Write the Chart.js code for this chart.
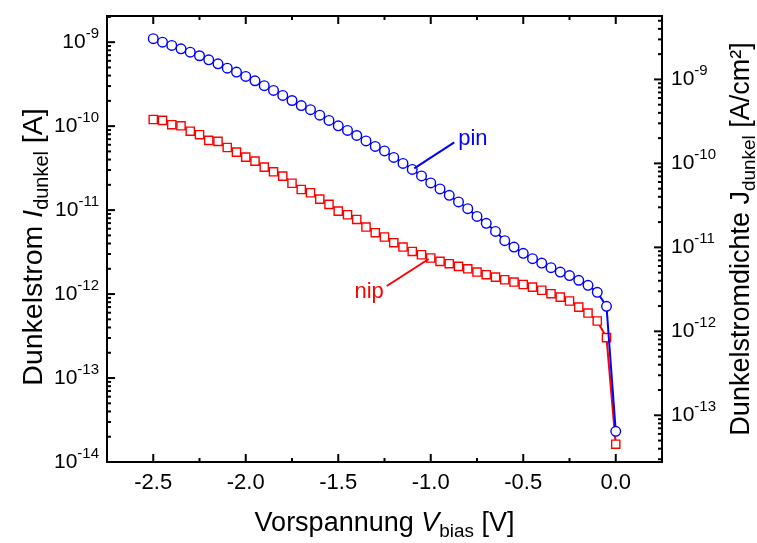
<!DOCTYPE html>
<html>
<head>
<meta charset="utf-8">
<script src="https://cdn.jsdelivr.net/npm/chart.js@4.4.1/dist/chart.umd.min.js"></script>
<style>
  html, body { margin: 0; padding: 0; background: #fff; }
</style>
</head>
<body>
<canvas id="grafico" width="757" height="543"></canvas>
<script>
/* ===================== DATOS ===================== */

const voltajes = [
  -2.50, -2.45, -2.40, -2.35, -2.30, -2.25, -2.20, -2.15, -2.10, -2.05,
  -2.00, -1.95, -1.90, -1.85, -1.80, -1.75, -1.70, -1.65, -1.60, -1.55,
  -1.50, -1.45, -1.40, -1.35, -1.30, -1.25, -1.20, -1.15, -1.10, -1.05,
  -1.00, -0.95, -0.90, -0.85, -0.80, -0.75, -0.70, -0.65, -0.60, -0.55,
  -0.50, -0.45, -0.40, -0.35, -0.30, -0.25, -0.20, -0.15, -0.10, -0.05,
  0.00
];

const corrientePin = [
  1.10e-9, 1.00e-9, 9.14e-10, 8.33e-10, 7.60e-10, 6.89e-10, 6.16e-10, 5.53e-10, 4.90e-10, 4.40e-10,
  3.91e-10, 3.47e-10, 3.03e-10, 2.66e-10, 2.32e-10, 2.02e-10, 1.76e-10, 1.57e-10, 1.35e-10, 1.17e-10,
  1.01e-10, 8.89e-11, 7.74e-11, 6.67e-11, 5.73e-11, 5.07e-11, 4.24e-11, 3.60e-11, 3.05e-11, 2.55e-11,
  2.11e-11, 1.79e-11, 1.50e-11, 1.25e-11, 1.04e-11, 8.41e-12, 6.95e-12, 5.57e-12, 4.33e-12, 3.63e-12,
  3.06e-12, 2.64e-12, 2.34e-12, 2.06e-12, 1.83e-12, 1.66e-12, 1.46e-12, 1.27e-12, 1.05e-12, 7.15e-13,
  2.32e-14
];

const corrienteNip = [
  1.20e-10, 1.17e-10, 1.04e-10, 1.01e-10, 8.71e-11, 7.91e-11, 6.76e-11, 6.58e-11, 5.57e-11, 4.90e-11,
  4.28e-11, 3.83e-11, 3.25e-11, 2.86e-11, 2.54e-11, 2.09e-11, 1.76e-11, 1.61e-11, 1.35e-11, 1.17e-11,
  9.73e-12, 8.81e-12, 7.74e-12, 6.28e-12, 5.38e-12, 4.78e-12, 4.09e-12, 3.63e-12, 3.22e-12, 2.94e-12,
  2.69e-12, 2.45e-12, 2.30e-12, 2.14e-12, 2.00e-12, 1.83e-12, 1.70e-12, 1.59e-12, 1.48e-12, 1.39e-12,
  1.30e-12, 1.21e-12, 1.11e-12, 1.01e-12, 9.20e-13, 8.27e-13, 7.00e-13, 5.94e-13, 4.78e-13, 3.03e-13,
  1.63e-14
];

const xTicks = [-2.5, -2.0, -1.5, -1.0, -0.5, 0.0];
const xTickLabels = ["-2.5", "-2.0", "-1.5", "-1.0", "-0.5", "0.0"];
const xMinorTicks = [-2.25, -1.75, -1.25, -0.75, -0.25];

const iExponentes = [-14, -13, -12, -11, -10, -9];
const jExponentes = [-13, -12, -11, -10, -9];

const AREA_CM2 = 0.36;          // I -> J
const I_MIN = 1e-14, I_MAX = 2.05e-9;

/* ===================== TEXTO ===================== */

const FUENTE = '"Liberation Sans", Arial, sans-serif';

function textoRico(ctx, partes, size, x, y) {
  const medir = p => {
    ctx.font = `${p.italic ? "italic " : ""}${p.sub ? size * 0.7 : size}px ${FUENTE}`;
    return ctx.measureText(p.t).width;
  };
  const total = partes.reduce((s, p) => s + medir(p), 0);
  let cx = x - total / 2;
  ctx.textAlign = "left";
  ctx.textBaseline = "alphabetic";
  partes.forEach(p => {
    const w = medir(p);
    ctx.fillText(p.t, cx, y + (p.sub ? size * 0.22 : 0));
    cx += w;
  });
}

function potencia(ctx, exp, x, y, alinear) {
  ctx.textBaseline = "alphabetic";
  ctx.font = `21px ${FUENTE}`;
  const wBase = ctx.measureText("10").width;
  ctx.font = `15px ${FUENTE}`;
  const wExp = ctx.measureText(String(exp)).width;
  const x0 = alinear === "right" ? x - wBase - wExp : x;
  ctx.textAlign = "left";
  ctx.font = `21px ${FUENTE}`;
  ctx.fillText("10", x0, y + 6);
  ctx.font = `15px ${FUENTE}`;
  ctx.fillText(String(exp), x0 + wBase, y - 4);
}

/* ===================== EJES (plugin) ===================== */

const ejes = {
  id: "ejes",
  afterDraw(chart) {
    const { ctx, chartArea: a, scales } = chart;
    const sx = scales.x, sy = scales.y, sj = scales.y2;
    ctx.save();
    ctx.strokeStyle = "#000";
    ctx.fillStyle = "#000";
    ctx.lineWidth = 2;

    // marco
    ctx.strokeRect(a.left, a.top, a.right - a.left, a.bottom - a.top);

    const linea = (x1, y1, x2, y2) => {
      ctx.beginPath(); ctx.moveTo(x1, y1); ctx.lineTo(x2, y2); ctx.stroke();
    };

    // eje x (abajo y arriba, hacia dentro)
    xTicks.forEach((v, i) => {
      const px = sx.getPixelForValue(v);
      linea(px, a.bottom, px, a.bottom - 8);
      linea(px, a.top, px, a.top + 8);
      ctx.font = `22px ${FUENTE}`;
      ctx.textAlign = "center";
      ctx.textBaseline = "alphabetic";
      ctx.fillText(xTickLabels[i], px, a.bottom + 27);
    });
    xMinorTicks.forEach(v => {
      const px = sx.getPixelForValue(v);
      linea(px, a.bottom, px, a.bottom - 4);
      linea(px, a.top, px, a.top + 4);
    });

    // eje izquierdo (I)
    iExponentes.forEach(e => {
      const py = sy.getPixelForValue(Math.pow(10, e));
      linea(a.left, py, a.left + 8, py);
      potencia(ctx, e, a.left - 8, py, "right");
      for (let m = 2; m <= 9; m++) {
        const v = m * Math.pow(10, e);
        if (v > I_MAX) break;
        const pm = sy.getPixelForValue(v);
        linea(a.left, pm, a.left + 4, pm);
      }
    });

    // eje derecho (J)
    const jMin = I_MIN / AREA_CM2, jMax = I_MAX / AREA_CM2;
    [-14, ...jExponentes].forEach(e => {
      const base = Math.pow(10, e);
      if (base >= jMin) {
        const py = sj.getPixelForValue(base);
        linea(a.right, py, a.right - 8, py);
        potencia(ctx, e, a.right + 9, py, "left");
      }
      for (let m = 2; m <= 9; m++) {
        const v = m * base;
        if (v < jMin || v > jMax) continue;
        const pm = sj.getPixelForValue(v);
        linea(a.right, pm, a.right - 4, pm);
      }
    });

    // titulos
    ctx.fillStyle = "#000";
    textoRico(ctx, [
      { t: "Vorspannung " }, { t: "V", italic: true }, { t: "bias", sub: true }, { t: " [V]" }
    ], 27, (a.left + a.right) / 2, 531);

    ctx.save();
    ctx.translate(42, 247);
    ctx.rotate(-Math.PI / 2);
    textoRico(ctx, [
      { t: "Dunkelstrom " }, { t: "I", italic: true }, { t: "dunkel", sub: true }, { t: " [A]" }
    ], 28.5, 0, 0);
    ctx.restore();

    ctx.save();
    ctx.translate(749, 239);
    ctx.rotate(-Math.PI / 2);
    textoRico(ctx, [
      { t: "Dunkelstromdichte " }, { t: "J" }, { t: "dunkel", sub: true }, { t: " [A/cm²]" }
    ], 27, 0, 0);
    ctx.restore();

    // anotaciones
    const pPin = { x: sx.getPixelForValue(voltajes[28]), y: sy.getPixelForValue(corrientePin[28]) };
    ctx.strokeStyle = "#0000ff";
    ctx.lineWidth = 2;
    linea(pPin.x + 2, pPin.y - 1, pPin.x + 42, pPin.y - 27);
    ctx.fillStyle = "#0000ff";
    ctx.font = `22px ${FUENTE}`;
    ctx.textAlign = "left";
    ctx.fillText("pin", pPin.x + 46, pPin.y - 24);

    const pNip = { x: sx.getPixelForValue(voltajes[30]), y: sy.getPixelForValue(corrienteNip[30]) };
    ctx.strokeStyle = "#ff0000";
    linea(pNip.x - 2, pNip.y + 1, pNip.x - 44, pNip.y + 28);
    ctx.fillStyle = "#ff0000";
    ctx.textAlign = "right";
    ctx.fillText("nip", pNip.x - 47, pNip.y + 40);

    ctx.restore();
  }
};

/* ===================== GRÁFICO ===================== */

new Chart(document.getElementById("grafico"), {
  type: "line",
  data: {
    datasets: [
      {
        label: "pin",
        data: voltajes.map((v, i) => ({ x: v, y: corrientePin[i] })),
        borderColor: "#0000ff",
        backgroundColor: "#ffffff",
        borderWidth: 2,
        pointStyle: "circle",
        pointRadius: 4.8,
        pointBorderWidth: 1.4,
        pointBorderColor: "#0000ff",
        pointBackgroundColor: "#ffffff",
        tension: 0
      },
      {
        label: "nip",
        data: voltajes.map((v, i) => ({ x: v, y: corrienteNip[i] })),
        borderColor: "#ff0000",
        backgroundColor: "#ffffff",
        borderWidth: 2,
        pointStyle: "rect",
        pointRadius: 5.8,
        pointBorderWidth: 1.4,
        pointBorderColor: "#ff0000",
        pointBackgroundColor: "#ffffff",
        tension: 0
      }
    ]
  },
  options: {
    responsive: false,
    animation: false,
    devicePixelRatio: 1,
    layout: { padding: { left: 107, right: 95, top: 16, bottom: 81 } },
    plugins: { legend: { display: false }, tooltip: { enabled: false } },
    scales: {
      x: { type: "linear", min: -2.75, max: 0.25, display: false },
      y: { type: "logarithmic", min: I_MIN, max: I_MAX, display: false },
      y2: { type: "logarithmic", position: "right", min: I_MIN / AREA_CM2, max: I_MAX / AREA_CM2, display: false }
    }
  },
  plugins: [ejes]
});
</script>
</body>
</html>
